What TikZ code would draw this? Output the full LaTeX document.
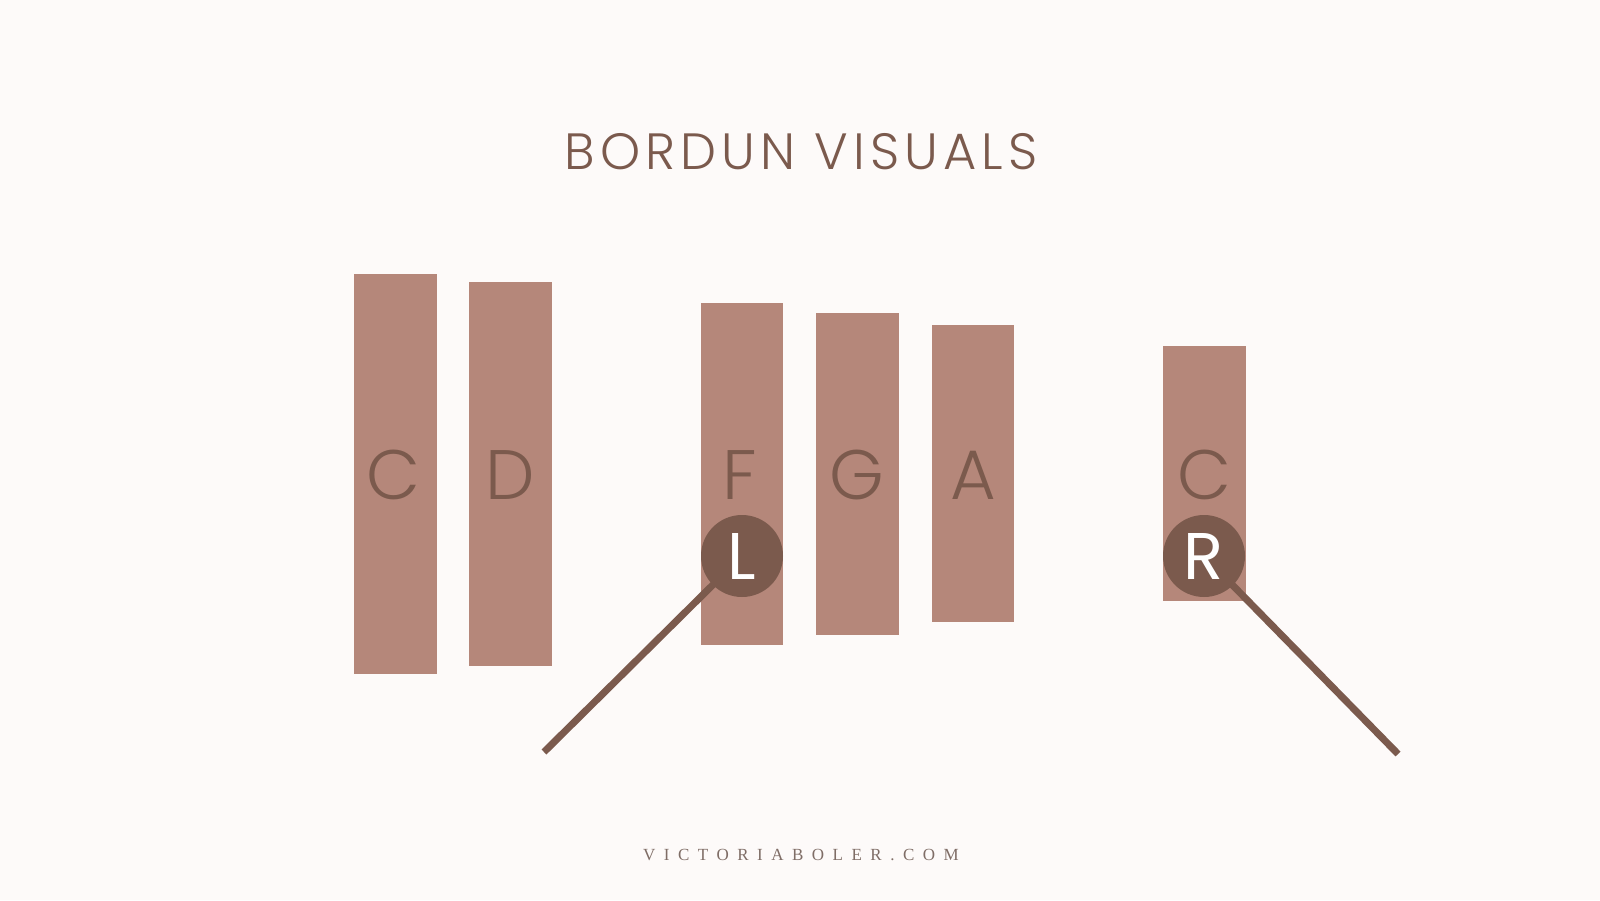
\documentclass[tikz,border=0pt]{standalone}
\usepackage{fontspec}
\IfFontExistsTF{Poppins Light}{%
  \newfontfamily\geofont{Poppins Light}
  \newfontfamily\titlefont{Poppins Light}[LetterSpace=10]
}{%
  \newfontfamily\geofont{Poppins}
  \newfontfamily\titlefont{Poppins}[LetterSpace=10]
}
\newfontfamily\whitefont{Poppins}
\newfontfamily\footfont{Liberation Serif}[LetterSpace=50]
\definecolor{bg}{HTML}{FDFAF9}
\definecolor{bar}{HTML}{B5877A}
\definecolor{dark}{HTML}{7B5A4D}
\definecolor{foot}{HTML}{7F6D66}
\tikzset{
  barbox/.style={fill=bar, draw=none},
  barletter/.style={text=dark, font=\geofont\fontsize{70}{70}\selectfont, inner sep=0pt, anchor=center},
  hand/.style={circle, fill=dark, minimum size=82pt, inner sep=0pt, text=white, font=\whitefont\fontsize{66}{66}\selectfont},
  stick/.style={draw=dark, line width=7pt}
}
\begin{document}
\begin{tikzpicture}[x=1pt,y=-1pt]
\fill[bg] (0,0) rectangle (1600,900);
\useasboundingbox (0,0) rectangle (1600,900);
% title
\node[text=dark, font=\titlefont\fontsize{51}{51}\selectfont, inner sep=0pt] (title) at (801,152) {BORDUN VISUALS};
% bars
\fill[barbox] (354,274) rectangle (437,674);
\fill[barbox] (469,282) rectangle (552,666);
\fill[barbox] (701,303) rectangle (783,645);
\fill[barbox] (816,313) rectangle (899,635);
\fill[barbox] (932,325) rectangle (1014,622);
\fill[barbox] (1163,346) rectangle (1246,601);
% bar letters
\node[barletter] (lc) at (393,475) {C};
\node[barletter] (ld) at (510,475) {D};
\node[barletter] (lf) at (740,475) {F};
\node[barletter] (lg) at (857,475) {G};
\node[barletter] (la) at (973,475) {A};
\node[barletter] (lc2) at (1204,475) {C};
% mallets
\coordinate (lend) at (544,752);
\coordinate (rend) at (1398,754);
\coordinate (lc0) at (742,556);
\coordinate (rc0) at (1204,556);
\draw[stick] (lc0) -- (lend);
\draw[stick] (rc0) -- (rend);
\node[hand] (L) at (lc0) {L};
\node[hand] (R) at (rc0) {R};
% footer
\node[text=foot, font=\footfont\fontsize{17}{17}\selectfont, inner sep=0pt] (footer) at (801,855) {VICTORIABOLER.COM};
\end{tikzpicture}
\end{document}
